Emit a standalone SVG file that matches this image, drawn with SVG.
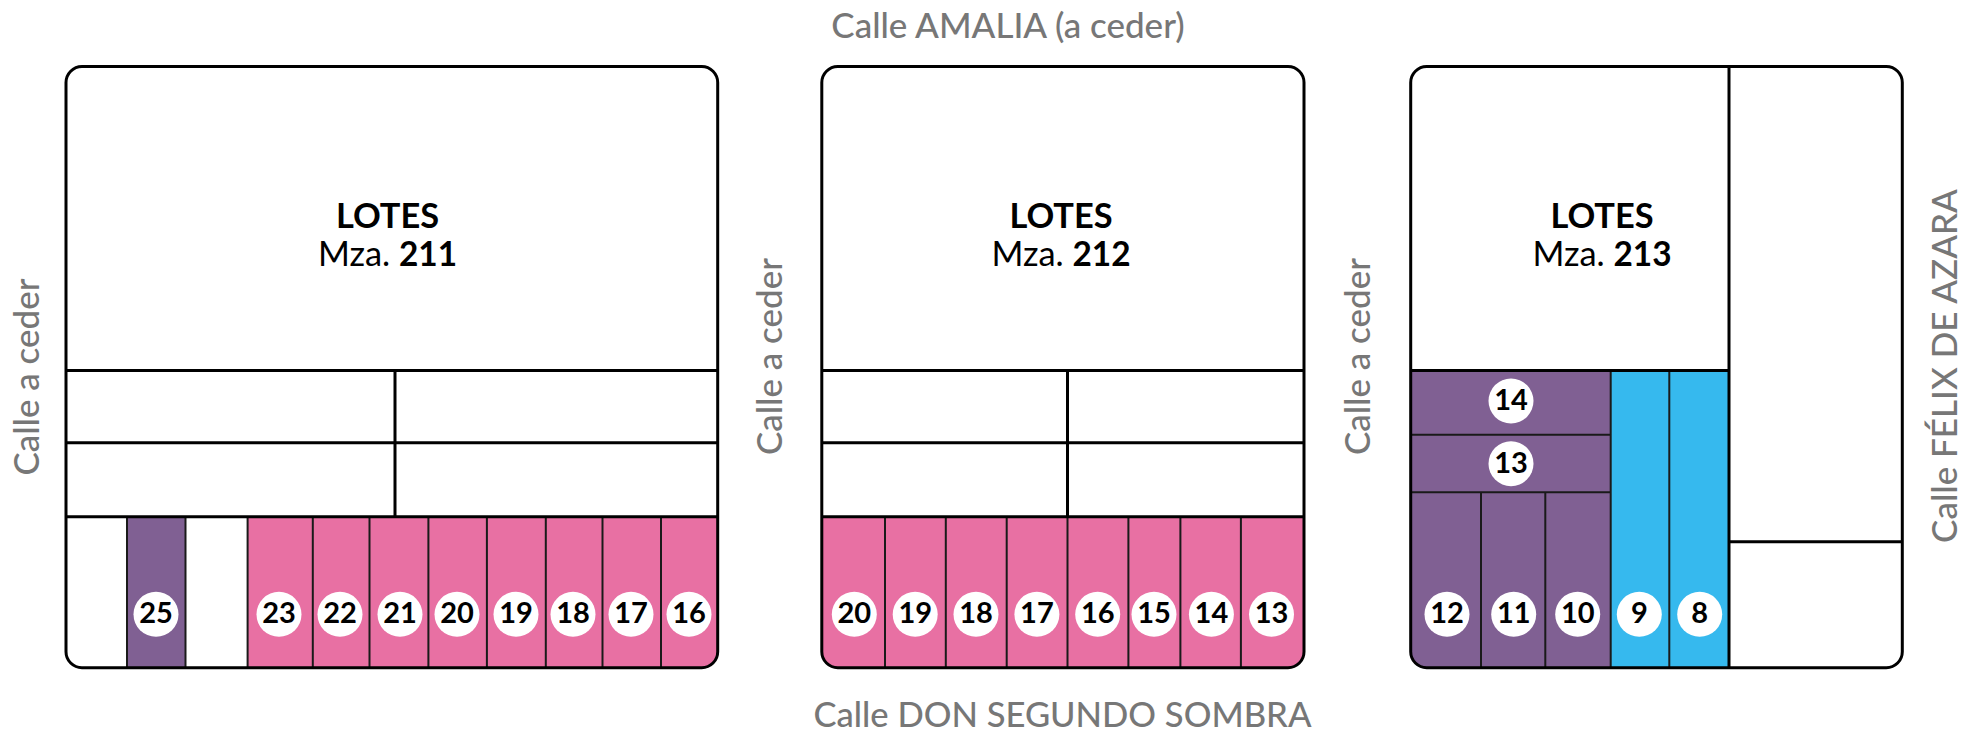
<svg xmlns="http://www.w3.org/2000/svg" width="1975" height="731" viewBox="0 0 1975 731">
<style>
text{font-family:Lato,"Noto Sans","Liberation Sans",sans-serif}
.st{font-size:35px;fill:#777;text-anchor:middle;font-weight:500}
.t{font-size:34.4px;fill:#000;text-anchor:middle}
.b{font-weight:700}
.m{font-weight:700;font-size:33.4px}
.n{font-size:29px;font-weight:700;fill:#000;text-anchor:middle}
.c{fill:#fff}
.o{fill:none;stroke:#000;stroke-width:3}
.h{fill:none;stroke:#000;stroke-width:3}
.d{fill:none;stroke:#1a1a1a;stroke-width:2}
.p{fill:#e870a3}.v{fill:#806093}.s{fill:#36b9ee}
</style>
<rect width="1975" height="731" fill="#fff"/>
<g id="labels">
<text class="st" x="1008" y="37.5">Calle AMALIA (a ceder)</text>
<text class="st" style="font-size:34.6px" x="1062.5" y="726.5">Calle DON SEGUNDO SOMBRA</text>
<text class="st" transform="translate(38.7 377) rotate(-90)">Calle a ceder</text>
<text class="st" transform="translate(782 356.5) rotate(-90)">Calle a ceder</text>
<text class="st" transform="translate(1370 356.5) rotate(-90)">Calle a ceder</text>
<text class="st" transform="translate(1957 366) rotate(-90)">Calle FÉLIX DE AZARA</text>
</g>
<g id="mza-211">
<path class="v" d="M127 516.7H185.5V667.7H127Z"/>
<path class="p" d="M247.6 516.7H717.7V652A16 16 0 0 1 702 667.7H247.6Z"/>
<path class="d" d="M127 516.7V667.7M185.5 516.7V667.7M247.6 516.7V667.7M312.8 516.7V667.7M369.5 516.7V667.7M428.4 516.7V667.7M486.9 516.7V667.7M545.8 516.7V667.7M602.5 516.7V667.7M661 516.7V667.7"/>
<path class="h" d="M66 370.4H717.7M66 442.8H717.7M66 516.7H717.7M395 370.4V516.7"/>
<rect class="o" x="66" y="66.5" width="651.7" height="601.2" rx="16"/>
<text class="t b" x="387.5" y="227.7">LOTES</text>
<text class="t" x="387.5" y="266.3">Mza. <tspan class="m">211</tspan></text>
<circle class="c" cx="156" cy="614.3" r="22.5"/><text class="n" x="156" y="623.3">25</text>
<circle class="c" cx="279" cy="614.3" r="22.5"/><text class="n" x="279" y="623.3">23</text>
<circle class="c" cx="340" cy="614.3" r="22.5"/><text class="n" x="340" y="623.3">22</text>
<circle class="c" cx="400" cy="614.3" r="22.5"/><text class="n" x="400" y="623.3">21</text>
<circle class="c" cx="457" cy="614.3" r="22.5"/><text class="n" x="457" y="623.3">20</text>
<circle class="c" cx="516" cy="614.3" r="22.5"/><text class="n" x="516" y="623.3">19</text>
<circle class="c" cx="573" cy="614.3" r="22.5"/><text class="n" x="573" y="623.3">18</text>
<circle class="c" cx="631" cy="614.3" r="22.5"/><text class="n" x="631" y="623.3">17</text>
<circle class="c" cx="689" cy="614.3" r="22.5"/><text class="n" x="689" y="623.3">16</text>
</g>
<g id="mza-212">
<path class="p" d="M821.8 516.7H1304V652A16 16 0 0 1 1288 667.7H838A16 16 0 0 1 821.8 652Z"/>
<path class="d" d="M885 516.7V667.7M945.8 516.7V667.7M1006.7 516.7V667.7M1067.5 516.7V667.7M1128.4 516.7V667.7M1180.4 516.7V667.7M1240.9 516.7V667.7"/>
<path class="h" d="M821.8 370.4H1304M821.8 442.8H1304M821.8 516.7H1304M1067.5 370.4V516.7"/>
<rect class="o" x="821.8" y="66.5" width="482.2" height="601.2" rx="16"/>
<text class="t b" x="1061" y="227.7">LOTES</text>
<text class="t" x="1061" y="266.3">Mza. <tspan class="m">212</tspan></text>
<circle class="c" cx="854.3" cy="614.3" r="22.5"/><text class="n" x="854.3" y="623.3">20</text>
<circle class="c" cx="915.2" cy="614.3" r="22.5"/><text class="n" x="915.2" y="623.3">19</text>
<circle class="c" cx="976" cy="614.3" r="22.5"/><text class="n" x="976" y="623.3">18</text>
<circle class="c" cx="1036.9" cy="614.3" r="22.5"/><text class="n" x="1036.9" y="623.3">17</text>
<circle class="c" cx="1097.7" cy="614.3" r="22.5"/><text class="n" x="1097.7" y="623.3">16</text>
<circle class="c" cx="1154" cy="614.3" r="22.5"/><text class="n" x="1154" y="623.3">15</text>
<circle class="c" cx="1211.4" cy="614.3" r="22.5"/><text class="n" x="1211.4" y="623.3">14</text>
<circle class="c" cx="1271.5" cy="614.3" r="22.5"/><text class="n" x="1271.5" y="623.3">13</text>
</g>
<g id="mza-213">
<path class="v" d="M1410.7 370.4H1610.7V667.7H1427A16 16 0 0 1 1410.7 652Z"/>
<path class="s" d="M1610.7 370.4H1729V667.7H1610.7Z"/>
<path class="d" d="M1481 492.3V667.7M1545.3 492.3V667.7M1610.7 370.4V667.7M1669.3 370.4V667.7M1410.7 434.7H1610.7M1410.7 492.3H1610.7"/>
<path class="h" d="M1410.7 370.4H1729M1729 66.5V667.7M1729 541.7H1902.3"/>
<rect class="o" x="1410.7" y="66.5" width="491.6" height="601.2" rx="16"/>
<text class="t b" x="1602" y="227.7">LOTES</text>
<text class="t" x="1602" y="266.3">Mza. <tspan class="m">213</tspan></text>
<circle class="c" cx="1511" cy="401" r="22.5"/><text class="n" x="1511" y="410">14</text>
<circle class="c" cx="1511" cy="463.7" r="22.5"/><text class="n" x="1511" y="472.7">13</text>
<circle class="c" cx="1447" cy="614.3" r="22.5"/><text class="n" x="1447" y="623.3">12</text>
<circle class="c" cx="1513.7" cy="614.3" r="22.5"/><text class="n" x="1513.7" y="623.3">11</text>
<circle class="c" cx="1577.7" cy="614.3" r="22.5"/><text class="n" x="1577.7" y="623.3">10</text>
<circle class="c" cx="1639.3" cy="614.3" r="22.5"/><text class="n" x="1639.3" y="623.3">9</text>
<circle class="c" cx="1699.7" cy="614.3" r="22.5"/><text class="n" x="1699.7" y="623.3">8</text>
</g>
</svg>
